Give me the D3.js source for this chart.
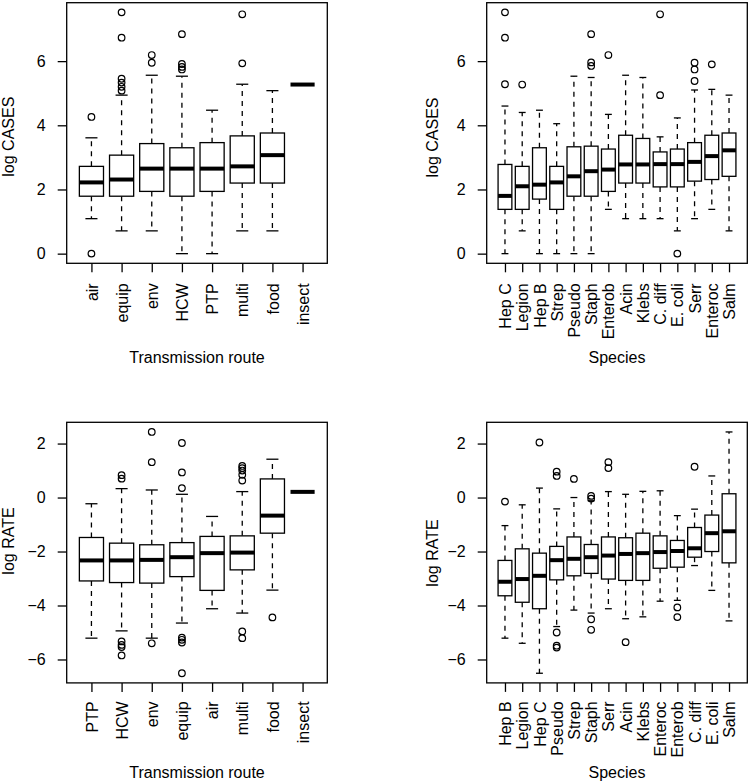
<!DOCTYPE html>
<html lang="en">
<head>
<meta charset="utf-8">
<title>Boxplots: log CASES and log RATE</title>
<script src="https://d3js.org/d3.v7.min.js"></script>
<style>
  body { margin: 0; background: #fff; }
  text { font-family: "Liberation Sans", Arial, Helvetica, sans-serif; font-size: 16px; fill: #000; }
  .tick line { stroke: #000; stroke-width: 1.3; }
</style>
</head>
<body>
<script>
// ---- data: five-number summaries [lower whisker, Q1, median, Q3, upper whisker] ----
var casesRouteCats = ["air", "equip", "env", "HCW", "PTP", "multi", "food", "insect"];
var casesRouteStats = [
  [1.09, 1.79, 2.22, 2.72, 3.61],
  [0.71, 1.79, 2.31, 3.07, 4.94],
  [0.71, 1.94, 2.65, 3.43, 5.56],
  [0, 1.79, 2.65, 3.30, 5.53],
  [0, 1.94, 2.65, 3.46, 4.47],
  [0.71, 2.20, 2.72, 3.67, 5.28],
  [0.71, 2.20, 3.07, 3.76, 5.08],
  [5.27, 5.27, 5.27, 5.27, 5.27]
];
var casesRouteOut = [[4.26, 0], [7.52, 6.73, 5.45, 5.33, 5.2, 5.08], [6.19, 5.95],
  [6.84, 5.91, 5.82, 5.74], [], [7.46, 5.93], [], []];

var casesSpeciesCats = ["Hep C", "Legion", "Hep B", "Strep", "Pseudo", "Staph", "Enterob",
  "Acin", "Klebs", "C. diff", "E. coli", "Serr", "Enteroc", "Salm"];
var casesSpeciesStats = [
  [0, 1.38, 1.80, 2.78, 4.60],
  [0.71, 1.38, 2.10, 2.72, 4.40],
  [0, 1.70, 2.15, 3.30, 4.47],
  [0, 1.38, 2.22, 2.72, 4.05],
  [0, 1.79, 2.41, 3.33, 5.53],
  [0, 1.79, 2.57, 3.35, 5.49],
  [1.38, 1.94, 2.62, 3.26, 4.34],
  [1.09, 2.20, 2.78, 3.69, 5.56],
  [1.09, 2.20, 2.78, 3.59, 5.49],
  [1.09, 2.08, 2.79, 3.17, 3.64],
  [0.71, 2.08, 2.79, 3.26, 4.23],
  [1.09, 2.26, 2.86, 3.46, 5.10],
  [1.38, 2.31, 3.04, 3.69, 5.12],
  [0.71, 2.41, 3.22, 3.76, 4.94]
];
var casesSpeciesOut = [[7.52, 6.73, 5.28], [5.27], [], [], [], [6.84, 5.96, 5.85], [6.19],
  [], [], [7.46, 4.94], [0], [5.95, 5.74, 5.38], [5.90], []];

var rateRouteCats = ["PTP", "HCW", "env", "equip", "air", "multi", "food", "insect"];
var rateRouteStats = [
  [-5.21, -3.09, -2.33, -1.48, -0.23],
  [-4.94, -3.15, -2.33, -1.69, 0.33],
  [-5.21, -3.17, -2.31, -1.75, 0.28],
  [-4.65, -2.93, -2.21, -1.67, 0.12],
  [-4.12, -3.44, -2.06, -1.44, -0.70],
  [-4.28, -2.68, -2.04, -1.42, 0.22],
  [-3.43, -1.32, -0.67, 0.69, 1.42],
  [0.21, 0.21, 0.21, 0.21, 0.21]
];
var rateRouteOut = [[], [0.83, 0.70, -5.33, -5.46, -5.54, -5.85], [2.43, 1.31, -5.40],
  [2.02, 0.93, 0.35, -5.19, -5.27, -5.37, -6.51], [], [1.17, 1.09, 1.0, 0.84, 0.63, -4.96, -5.21],
  [-4.44], []];

var rateSpeciesCats = ["Hep B", "Legion", "Hep C", "Pseudo", "Strep", "Staph", "Serr",
  "Acin", "Klebs", "Enteroc", "Enterob", "C. diff", "E. coli", "Salm"];
var rateSpeciesStats = [
  [-5.21, -3.64, -3.12, -2.33, -1.04],
  [-5.40, -3.88, -3.02, -1.90, -0.27],
  [-6.51, -4.12, -2.90, -2.06, 0.35],
  [-4.78, -3.05, -2.32, -1.81, -0.42],
  [-4.17, -2.90, -2.27, -1.46, 0],
  [-4.28, -2.81, -2.21, -1.74, -0.12],
  [-4.12, -3.02, -2.15, -1.46, 0.22],
  [-4.49, -3.07, -2.09, -1.49, 0.12],
  [-4.42, -3.07, -2.06, -1.32, 0.23],
  [-3.84, -2.62, -2.02, -1.42, 0.25],
  [-3.81, -2.58, -1.98, -1.59, -0.67],
  [-2.52, -2.21, -1.88, -1.11, -0.43],
  [-3.44, -2.00, -1.32, -0.65, 0.80],
  [-4.57, -2.42, -1.25, 0.14, 2.43]
];
var rateSpeciesOut = [[-0.15], [], [2.04], [0.96, 0.80, -5.0, -5.49, -5.56], [0.69],
  [0.06, -0.04, -4.51, -4.90], [1.31, 1.09], [-5.36], [], [], [-4.07, -4.43], [1.14], [], []];

var casesTicks = [0, 2, 4, 6];
var rateTicks = [-6, -4, -2, 0, 2];

// ---- layout ----
var w = 750, h = 784;
var plotSize = 260.6;

var panels = [
  { left: 66.7, top: 2.7, cats: casesRouteCats, stats: casesRouteStats, outs: casesRouteOut,
    ticks: casesTicks, ylab: "log CASES", xlab: "Transmission route",
    ylabX: 14, ylabY: 136.7, labGap: 20, xlabY: 363 },
  { left: 486.7, top: 2.7, cats: casesSpeciesCats, stats: casesSpeciesStats, outs: casesSpeciesOut,
    ticks: casesTicks, ylab: "log CASES", xlab: "Species",
    ylabX: 438, ylabY: 137.5, labGap: 20, xlabY: 363 },
  { left: 66.7, top: 422.3, cats: rateRouteCats, stats: rateRouteStats, outs: rateRouteOut,
    ticks: rateTicks, ylab: "log RATE", xlab: "Transmission route",
    ylabX: 14, ylabY: 541, labGap: 18.5, xlabY: 778 },
  { left: 486.7, top: 422.3, cats: rateSpeciesCats, stats: rateSpeciesStats, outs: rateSpeciesOut,
    ticks: rateTicks, ylab: "log RATE", xlab: "Species",
    ylabX: 438, ylabY: 553, labGap: 18.5, xlabY: 778 }
];

var svg = d3.select("body").append("svg")
  .attr("width", w)
  .attr("height", h);

svg.append("rect").attr("width", w).attr("height", h).attr("fill", "#fff");

panels.forEach(function(p) {
  var n = p.cats.length;
  var right = p.left + plotSize, bottom = p.top + plotSize;

  // R-style 4% axis expansion
  var xScale = d3.scaleLinear()
    .domain([0.5 - 0.04 * n, n + 0.5 + 0.04 * n])
    .range([p.left, right]);

  var all = d3.merge(p.stats).concat(d3.merge(p.outs));
  var lo = d3.min(all), hi = d3.max(all), pad = (hi - lo) * 0.04;
  var yScale = d3.scaleLinear()
    .domain([lo - pad, hi + pad])
    .range([bottom, p.top]);

  var g = svg.append("g");
  var bw = (xScale(1.4) - xScale(0.6));

  // boxes
  var boxes = g.selectAll("g.box")
    .data(p.stats)
    .enter()
    .append("g")
    .attr("class", "box")
    .attr("transform", function(d, i) { return "translate(" + xScale(i + 1) + ",0)"; });

  // whiskers (dashed)
  boxes.append("line")
    .attr("y1", function(d) { return yScale(d[3]); })
    .attr("y2", function(d) { return yScale(d[4]); })
    .attr("stroke", "#000").attr("stroke-width", 1.3).attr("stroke-dasharray", "5,5");
  boxes.append("line")
    .attr("y1", function(d) { return yScale(d[1]); })
    .attr("y2", function(d) { return yScale(d[0]); })
    .attr("stroke", "#000").attr("stroke-width", 1.3).attr("stroke-dasharray", "5,5");

  // staples
  [0, 4].forEach(function(k) {
    boxes.append("line")
      .attr("x1", -bw / 4).attr("x2", bw / 4)
      .attr("y1", function(d) { return yScale(d[k]); })
      .attr("y2", function(d) { return yScale(d[k]); })
      .attr("stroke", "#000").attr("stroke-width", 1.3);
  });

  boxes.append("rect")
    .attr("x", -bw / 2)
    .attr("width", bw)
    .attr("y", function(d) { return yScale(d[3]); })
    .attr("height", function(d) { return yScale(d[1]) - yScale(d[3]); })
    .attr("fill", "#fff")
    .attr("stroke", "#000")
    .attr("stroke-width", 1.3);

  boxes.append("line")
    .attr("x1", -bw / 2).attr("x2", bw / 2)
    .attr("y1", function(d) { return yScale(d[2]); })
    .attr("y2", function(d) { return yScale(d[2]); })
    .attr("stroke", "#000").attr("stroke-width", 4);

  // outliers
  boxes.each(function(d, i) {
    d3.select(this).selectAll("circle")
      .data(p.outs[i])
      .enter()
      .append("circle")
      .attr("cx", 0)
      .attr("cy", function(v) { return yScale(v); })
      .attr("r", 3.3)
      .attr("fill", "none")
      .attr("stroke", "#000")
      .attr("stroke-width", 1.2);
  });

  // frame
  g.append("rect")
    .attr("x", p.left).attr("y", p.top)
    .attr("width", plotSize).attr("height", plotSize)
    .attr("fill", "none").attr("stroke", "#000").attr("stroke-width", 1.3);

  // y axis
  var yAxis = d3.axisLeft(yScale).tickValues(p.ticks).tickSize(9).tickPadding(12);
  var ya = g.append("g")
    .attr("transform", "translate(" + p.left + ",0)")
    .call(yAxis);
  ya.select(".domain").remove();
  ya.selectAll("text").attr("font-size", 16).attr("fill", "#000");

  // x axis
  var xAxis = d3.axisBottom(xScale)
    .tickValues(d3.range(1, n + 1))
    .tickFormat(function(i) { return p.cats[i - 1]; })
    .tickSize(9);
  var xa = g.append("g")
    .attr("transform", "translate(0," + bottom + ")")
    .call(xAxis);
  xa.select(".domain").remove();
  xa.selectAll("text")
    .attr("font-size", 16).attr("fill", "#000")
    .attr("transform", "rotate(-90)")
    .attr("text-anchor", "end")
    .attr("x", -p.labGap)
    .attr("y", 0)
    .attr("dy", "0.35em");

  // axis titles
  g.append("text")
    .attr("x", (p.left + right) / 2)
    .attr("y", p.xlabY)
    .attr("text-anchor", "middle")
    .text(p.xlab);

  g.append("text")
    .attr("transform", "translate(" + p.ylabX + "," + p.ylabY + ") rotate(-90)")
    .attr("text-anchor", "middle")
    .text(p.ylab);
});
</script>
</body>
</html>
